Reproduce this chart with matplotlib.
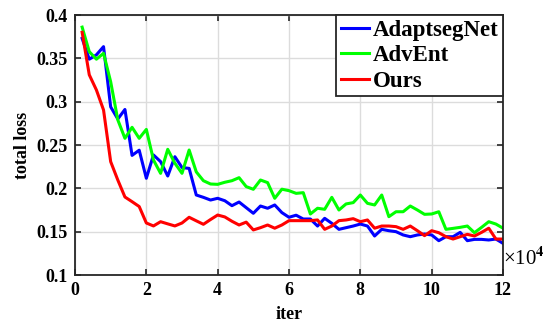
import numpy as np
import matplotlib
matplotlib.use("Agg")
import matplotlib.pyplot as plt

iters = [round(0.2 * i, 1) for i in range(1, 61)]

adaptsegnet = [0.373, 0.349, 0.354, 0.3635, 0.294, 0.280, 0.291, 0.238, 0.244, 0.2116,
               0.2385, 0.2308, 0.2142, 0.2365, 0.224, 0.223, 0.1923, 0.1896, 0.1865, 0.1885,
               0.1857, 0.180, 0.1842, 0.1777, 0.1712, 0.1796, 0.177, 0.1808, 0.172, 0.1666,
               0.169, 0.1646, 0.1646, 0.1565, 0.1654, 0.1596, 0.1527, 0.1546, 0.1565, 0.1588,
               0.1565, 0.145, 0.1527, 0.1511, 0.150, 0.1462, 0.1442, 0.1462, 0.1473, 0.1462,
               0.1396, 0.1442, 0.1442, 0.1492, 0.1396, 0.1411, 0.1411, 0.1404, 0.1415, 0.1365]

advent = [0.386, 0.3577, 0.349, 0.3558, 0.323, 0.279, 0.2577, 0.2704, 0.2577, 0.268,
          0.2327, 0.2173, 0.245, 0.229, 0.2173, 0.2442, 0.219, 0.2088, 0.205, 0.2046,
          0.207, 0.2088, 0.2123, 0.202, 0.1989, 0.2096, 0.2066, 0.1885, 0.199, 0.1973,
          0.1942, 0.195, 0.1704, 0.177, 0.1758, 0.1896, 0.175, 0.182, 0.1835, 0.1923,
          0.1827, 0.1808, 0.1923, 0.1673, 0.173, 0.173, 0.1796, 0.175, 0.170, 0.1704,
          0.173, 0.1527, 0.1538, 0.155, 0.1565, 0.1488, 0.155, 0.1615, 0.1588, 0.154]

ours = [0.380, 0.331, 0.3135, 0.2904, 0.2308, 0.2096, 0.190, 0.1846, 0.179, 0.160,
        0.1566, 0.1615, 0.159, 0.1566, 0.160, 0.1666, 0.1625, 0.1585, 0.164, 0.1692,
        0.167, 0.162, 0.1577, 0.161, 0.152, 0.1546, 0.1577, 0.154, 0.1577, 0.1627,
        0.1627, 0.1627, 0.1627, 0.1635, 0.1527, 0.1565, 0.1627, 0.1635, 0.165, 0.1615,
        0.1635, 0.154, 0.1565, 0.1565, 0.1558, 0.1527, 0.1565, 0.1511, 0.1454, 0.1511,
        0.1488, 0.1442, 0.1415, 0.1442, 0.1469, 0.145, 0.1492, 0.154, 0.1415, 0.1415]

series_names = ["AdaptsegNet", "AdvEnt", "Ours"]
xticks = [0, 2, 4, 6, 8, 10, 12]
yticks = [0.1, 0.15, 0.2, 0.25, 0.3, 0.35, 0.4]
ytick_labels = ["0.1", "0.15", "0.2", "0.25", "0.3", "0.35", "0.4"]

plt.rcParams['font.family'] = ['Liberation Serif', 'DejaVu Serif']
plt.rcParams['font.weight'] = 'bold'
plt.rcParams['mathtext.fontset'] = 'stix'

fig = plt.figure(figsize=(5.48, 3.24), dpi=100)
ax = fig.add_axes([75/548, 1 - 275/324, 428/548, 260/324])

colors = ["#0000ff", "#00ff00", "#ff0000"]
for ys, c, name in zip([adaptsegnet, advent, ours], colors, series_names):
    ax.plot(iters, ys, color=c, lw=2.2, label=name)

ax.set_xlim(0, 12)
ax.set_ylim(0.1, 0.4)
ax.set_xticks(xticks)
ax.set_yticks(yticks)
ax.set_yticklabels(ytick_labels)
ax.grid(True, color="#dcdcdc", lw=1.0)
ax.set_axisbelow(True)
ax.tick_params(direction="in", top=True, right=True, labelsize=13, length=4,
               width=1.2, color="#262626", pad=5)
for lbl in ax.get_xticklabels() + ax.get_yticklabels():
    lbl.set_fontweight('bold')
for sp in ax.spines.values():
    sp.set_linewidth(1.3)
    sp.set_color("#262626")

ax.set_xlabel("iter", fontsize=13, fontweight='bold', labelpad=5)
ax.set_ylabel("total loss", fontsize=13, fontweight='bold', labelpad=4)

ax.text(1.0, 0.02, "×10$^{4}$", transform=ax.transAxes, fontsize=15,
        ha="left", va="bottom", fontweight='normal')

leg = ax.legend(loc="upper right", borderaxespad=0, fancybox=False, frameon=True,
                edgecolor="#262626", framealpha=1, handlelength=1.25, handletextpad=0.15,
                borderpad=0.2, labelspacing=0.2,
                prop={'family': 'Liberation Serif', 'weight': 'bold', 'size': 16.5})
leg.get_frame().set_linewidth(1.3)

fig.savefig("out.png", dpi=100)
